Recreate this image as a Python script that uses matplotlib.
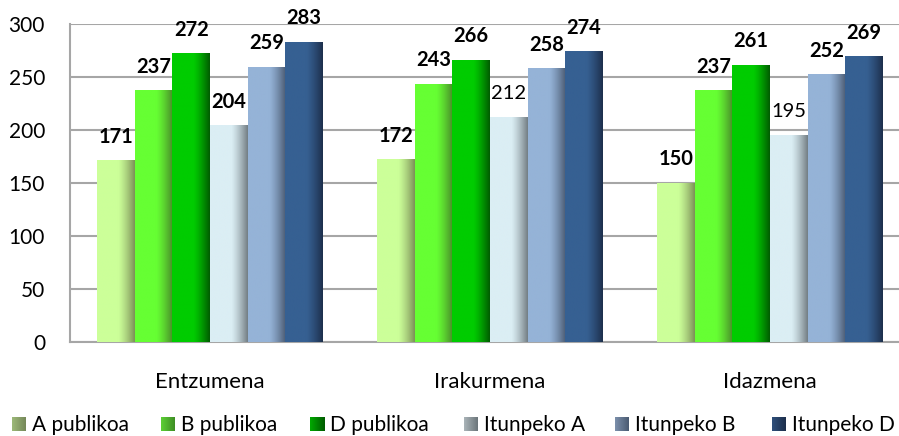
import numpy as np
import matplotlib
matplotlib.use("Agg")
from matplotlib import pyplot as plt
from matplotlib.colors import LinearSegmentedColormap

plt.rcParams['font.family'] = ['Lato', 'DejaVu Sans']

# --- Daten
kategorien = ['Entzumena', 'Irakurmena', 'Idazmena']
serien = ['A publikoa', 'B publikoa', 'D publikoa', 'Itunpeko A', 'Itunpeko B', 'Itunpeko D']
werte = [
    [171, 172, 150],  # A publikoa
    [237, 243, 237],  # B publikoa
    [272, 266, 261],  # D publikoa
    [204, 212, 195],  # Itunpeko A
    [259, 258, 252],  # Itunpeko B
    [283, 274, 269],  # Itunpeko D
]
# welche Beschriftungen fett sind
fett = [
    [True, True, True],
    [True, True, True],
    [True, True, True],
    [True, False, False],
    [True, True, True],
    [True, True, True],
]

# helle / dunkle Farbe je Serie (Verlauf von links nach rechts)
farben = [
    ('#ccff99', '#7d9158'),
    ('#66ff33', '#4a8c2a'),
    ('#00cc00', '#005c00'),
    ('#dbeef4', '#737e84'),
    ('#95b3d7', '#4b5b73'),
    ('#366092', '#1d2f4c'),
]
legende_farben = [('#9cb878', '#76895a'), ('#5ccf35', '#3f8f25'), ('#00a800', '#005c00'),
                  ('#a9b3b7', '#6d777c'), ('#7b8faa', '#4b5b73'), ('#2f4f7a', '#1d2f4c')]

fig = plt.figure(figsize=(8.99, 4.36), dpi=100)
ax = fig.add_axes([70 / 899, 1 - 342 / 436, 840 / 899, 318 / 436])

breite = 0.134
profil = np.concatenate([np.zeros(55), np.linspace(0, 1, 45) ** 1.3])

for j, name in enumerate(serien):
    cmap = LinearSegmentedColormap.from_list(name, farben[j])
    for i in range(len(kategorien)):
        x0 = i + (j - 3) * breite
        h = werte[j][i]
        ax.imshow(profil[np.newaxis, :], cmap=cmap, vmin=0, vmax=1, aspect='auto',
                  extent=(x0, x0 + breite, 0, h), interpolation='bilinear', zorder=3)
        ax.text(x0 + breite / 2, h + 17, str(h), ha='center', va='baseline', fontsize=14.5,
                fontweight='bold' if fett[j][i] else 'normal', color='black', zorder=4)

ax.set_xlim(-0.5, 2.5)
ax.set_ylim(0, 300)
ax.set_yticks(np.arange(0, 301, 50))
ax.set_xticks([])
ax.grid(axis='y', color='#a6a6a6', linewidth=1.5, zorder=0)
ax.set_axisbelow(True)
for s in ['top', 'right']:
    ax.spines[s].set_visible(False)
for s in ['left', 'bottom']:
    ax.spines[s].set_color('#a6a6a6')
    ax.spines[s].set_linewidth(1.5)
ax.tick_params(axis='y', length=0, pad=18, labelsize=15)

for i, k in enumerate(kategorien):
    ax.text(i, -43.5, k, ha='center', va='baseline', fontsize=16, clip_on=False)

# Legende unten, manuell gesetzt (knapp über dem unteren Rand)
leg_x = [12, 161, 310, 464, 615, 772]
for j, name in enumerate(serien):
    cmap = LinearSegmentedColormap.from_list('leg' + name, legende_farben[j])
    lax = fig.add_axes([leg_x[j] / 899, 5 / 436, 14 / 899, 14 / 436])
    lax.imshow(np.linspace(0, 1, 20)[np.newaxis, :], cmap=cmap, aspect='auto', interpolation='bilinear')
    lax.axis('off')
    fig.text((leg_x[j] + 20) / 899, 1 - 431 / 436, name, ha='left', va='baseline', fontsize=15)

fig.savefig('out.png', dpi=100)
